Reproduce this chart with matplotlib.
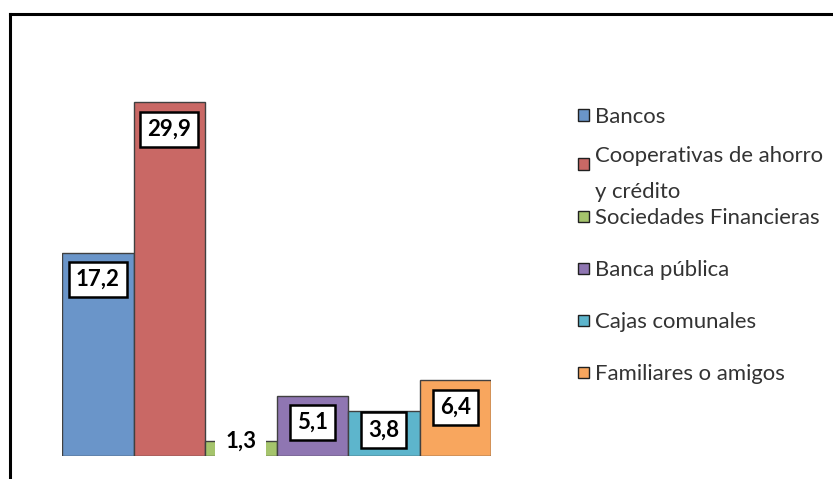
import matplotlib.pyplot as plt
from matplotlib.lines import Line2D
from matplotlib.patches import Rectangle

# DATA -------------
categories = ["Bancos", "Cooperativas de ahorro\ny crédito", "Sociedades Financieras",
              "Banca pública", "Cajas comunales", "Familiares o amigos"]
values = [17.2, 29.9, 1.3, 5.1, 3.8, 6.4]
value_labels = ["17,2", "29,9", "1,3", "5,1", "3,8", "6,4"]

# COLORS -----------
colors = ["#6A95C9", "#C96865", "#A5C46C", "#8F76B2", "#5DB5CC", "#F8A65E"]
edge = "#404040"

W, H = 833, 479
font = "Lato"


def fx(px):
    return px / W


def fy(py):
    return 1 - py / H


fig = plt.figure(figsize=(W / 100, H / 100), dpi=100)
fig.patch.set_facecolor("white")

# frame (only top and left edges are visible in the crop)
fig.add_artist(Line2D([fx(10), fx(W)], [fy(14), fy(14)], color="black", lw=2.2))
fig.add_artist(Line2D([fx(10), fx(10)], [fy(14), fy(H)], color="black", lw=2.2))

# bars ----------
ymax = 32
px_per_unit = 11.83
ax = fig.add_axes([fx(62), fy(456), fx(491) - fx(62), fy(456 - ymax * px_per_unit) - fy(456)])
xs = range(len(values))
ax.bar(xs, values, width=1.0, color=colors, edgecolor=edge, linewidth=1)
ax.set_xlim(-0.5, len(values) - 0.5)
ax.set_ylim(0, ymax)
ax.axis("off")

# data labels, placed inside the top of each bar
for x, v, lab in zip(xs, values, value_labels):
    h_px = v * px_per_unit
    if h_px < 30:
        ax.annotate(lab, (x, v), xytext=(0, -1), textcoords="offset pixels",
                    ha="center", va="center", fontsize=16, fontweight="bold",
                    family=font,
                    bbox=dict(boxstyle="square,pad=0.45", fc="white", ec="none"))
    else:
        off = min(27, h_px - 26)
        ax.annotate(lab, (x, v), xytext=(0, -off), textcoords="offset pixels",
                    ha="center", va="center", fontsize=16, fontweight="bold",
                    family=font,
                    bbox=dict(boxstyle="square,pad=0.32", fc="white", ec="black", lw=1.8))

# legend drawn by hand so the two-line entry does not push the others down
leg_y = [115, 164, 216, 268, 320, 372]
for c, name, y in zip(colors, categories, leg_y):
    fig.add_artist(Rectangle((fx(578), fy(y + 5.5)), fx(11), fy(y - 5.5) - fy(y + 5.5),
                             fc=c, ec="#202020", lw=1))
    fig.text(fx(595), fy(y), name, ha="left", va="center_baseline",
             fontsize=15.9, family=font, color="#333333", linespacing=2.0)

fig.savefig("out.png", dpi=100)
